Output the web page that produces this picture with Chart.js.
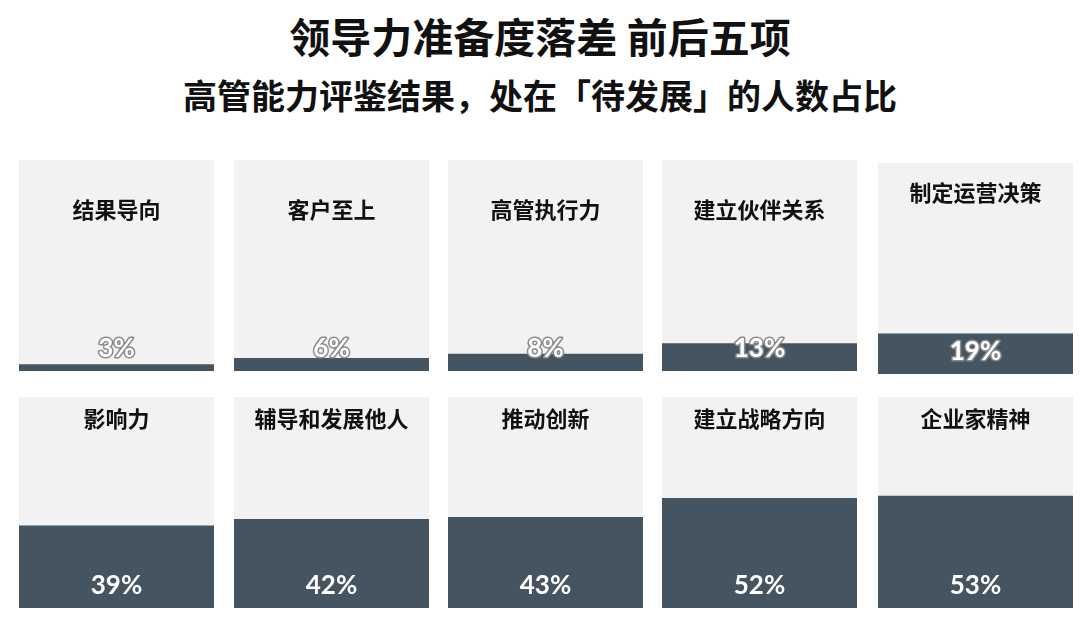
<!DOCTYPE html>
<html>
<head>
<meta charset="utf-8">
<script src="https://cdn.jsdelivr.net/npm/chart.js@4/dist/chart.umd.min.js"></script>
<style>
  body { margin: 0; background: #fff; width: 1080px; height: 627px; position: relative; overflow: hidden;
         font-family: "Noto Sans CJK SC", "Noto Sans", sans-serif; color: #111; }
  .title { position: absolute; left: 0; width: 1080px; text-align: center; font-weight: bold; white-space: nowrap; }
  #t1 { top: 13px; font-size: 41px; line-height: 44px; }
  #t2 { top: 76px; font-size: 34px; line-height: 38px; }
  canvas { position: absolute; }
</style>
</head>
<body>
<div class="title" id="t1">领导力准备度落差 前后五项</div>
<div class="title" id="t2">高管能力评鉴结果，处在「待发展」的人数占比</div>

<script>
// competencies, top row = smallest gap, bottom row = biggest gap
const skills = ['结果导向', '客户至上', '高管执行力', '建立伙伴关系', '制定运营决策',
                '影响力', '辅导和发展他人', '推动创新', '建立战略方向', '企业家精神'];
const pctDeveloping = [3, 6, 8, 13, 19, 39, 42, 43, 52, 53];

// panel grid
const colLeft = [19, 234, 448, 662, 878];
const rowTop = [160, 397];
const panelW = 195, panelH = 211;

const slate = '#455461';
const paper = '#f2f2f2';

const panelDecor = {
  id: 'panelDecor',
  beforeDatasetsDraw(chart) {
    const {ctx, chartArea: a} = chart;
    ctx.save();
    ctx.fillStyle = paper;
    ctx.fillRect(a.left, a.top, a.right - a.left, a.bottom - a.top);
    ctx.restore();
  },
  afterDatasetsDraw(chart, args, opts) {
    const {ctx, chartArea: a} = chart;
    const cx = (a.left + a.right) / 2;
    const v = chart.data.datasets[0].data[0];
    ctx.save();
    ctx.textAlign = 'center';
    ctx.textBaseline = 'middle';
    ctx.fillStyle = '#111';
    ctx.font = 'bold 22px "Noto Sans CJK SC"';
    ctx.fillText(chart.data.labels[0], cx, a.top + opts.labelY);

    ctx.font = 'bold 26px Lato';
    const txt = v + '%';
    const y = a.bottom - 22;
    if (opts.outline) {
      ctx.lineWidth = 3;
      ctx.strokeStyle = '#8a8a8a';
      ctx.lineJoin = 'round';
      ctx.strokeText(txt, cx, y);
    }
    ctx.fillStyle = '#fff';
    ctx.fillText(txt, cx, y);
    ctx.restore();
  }
};

skills.forEach((name, i) => {
  const row = Math.floor(i / 5), col = i % 5;
  const cv = document.createElement('canvas');
  cv.width = panelW;
  cv.height = panelH;
  cv.style.left = colLeft[col] + 'px';
  cv.style.top = (rowTop[row] + (i === 4 ? 3 : 0)) + 'px';
  document.body.appendChild(cv);

  new Chart(cv, {
    type: 'bar',
    data: {
      labels: [name],
      datasets: [{
        data: [pctDeveloping[i]],
        backgroundColor: slate,
        borderWidth: 0,
        barPercentage: 1,
        categoryPercentage: 1
      }]
    },
    options: {
      animation: false,
      responsive: false,
      layout: { padding: 0 },
      scales: {
        x: { display: false },
        y: { display: false, min: 0, max: 100 }
      },
      plugins: {
        legend: { display: false },
        tooltip: { enabled: false },
        panelDecor: {
          labelY: row === 0 ? (i === 4 ? 30 : 50) : 22,
          outline: row === 0
        }
      }
    },
    plugins: [panelDecor]
  });
});
</script>
</body>
</html>
